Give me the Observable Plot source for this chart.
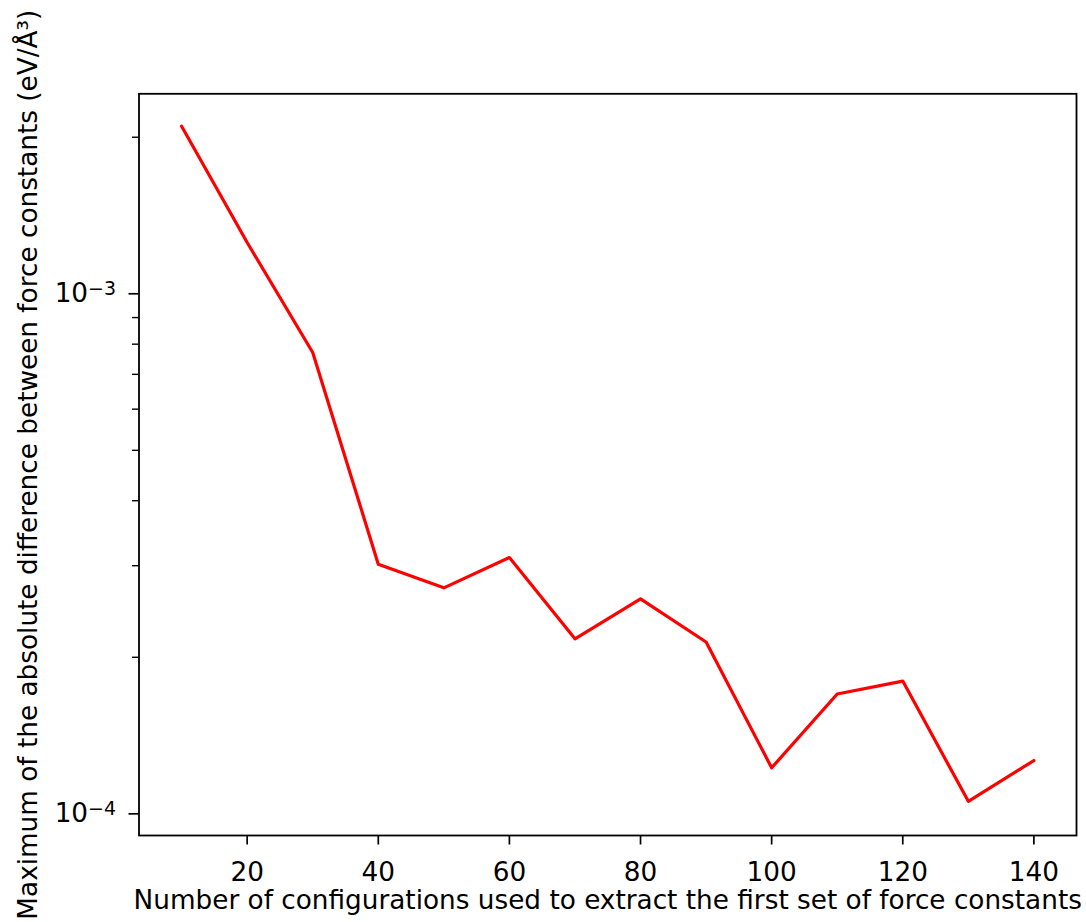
<!DOCTYPE html>
<html>
<head>
<meta charset="utf-8">
<script src="https://cdn.jsdelivr.net/npm/d3@7"></script>
<script src="https://cdn.jsdelivr.net/npm/@observablehq/plot@0.6"></script>
<style>
  html, body { margin: 0; padding: 0; background: #fff; }
  #chart svg { display: block; }
</style>
</head>
<body>
<div id="chart"></div>
<script>
const configs = [10, 20, 30, 40, 50, 60, 70, 80, 90, 100, 110, 120, 130, 140];
const maxDiff = [2.10e-3, 1.255e-3, 7.71e-4, 3.02e-4, 2.72e-4, 3.11e-4, 2.17e-4, 2.59e-4, 2.14e-4, 1.226e-4, 1.70e-4, 1.80e-4, 1.057e-4, 1.266e-4];
const xTicks = [20, 40, 60, 80, 100, 120, 140];
const yMajorTicks = [1e-4, 1e-3];
const yMajorExponents = ["−4", "−3"];
const yMinorTicks = [2e-4, 3e-4, 4e-4, 5e-4, 6e-4, 7e-4, 8e-4, 9e-4, 2e-3];
const xLabel = "Number of configurations used to extract the first set of force constants";
const yLabel = "Maximum of the absolute difference between force constants (eV/Å³)";

const data = configs.map((c, i) => ({x: c, y: maxDiff[i]}));
const font = "DejaVu Sans, sans-serif";
const fs = 26.3;

const chart = Plot.plot({
  width: 1086,
  height: 922,
  marginLeft: 138.5,
  marginRight: 10,
  marginTop: 93.3,
  marginBottom: 87,
  style: {fontFamily: font, fontSize: fs + "px", color: "#000", background: "#fff"},
  x: {domain: [3.5, 146.5]},
  y: {type: "log", domain: [9.085e-5, 2.424e-3]},
  marks: [
    Plot.axisX(xTicks, {tickSize: 9.5, tickPadding: 17, fontSize: fs, label: null, strokeWidth: 1.7, fill: "#000"}),
    Plot.axisY(yMajorTicks, {tickSize: 10, tickPadding: 13, fontSize: fs, label: null, strokeWidth: 1.7, fill: "#000",
      tickFormat: d => "10^" + yMajorExponents[yMajorTicks.indexOf(d)]}),
    Plot.axisY(yMinorTicks, {tickSize: 6.5, tickFormat: () => "", label: null, strokeWidth: 1.4}),
    Plot.line(data, {x: "x", y: "y", stroke: "#ff0000", strokeWidth: 3.2}),
    Plot.frame({stroke: "#000", strokeWidth: 1.8}),
    Plot.text([xLabel], {frameAnchor: "bottom", dy: 65, lineAnchor: "middle", textAnchor: "middle", fontSize: fs, fill: "#000"}),
    Plot.text([yLabel], {frameAnchor: "left", dx: -110.5, rotate: -90, lineAnchor: "middle", textAnchor: "middle", fontSize: fs, fill: "#000"})
  ]
});

// Render exponent labels as 10 with a superscript, like mathtext.
d3.select(chart).selectAll("text").each(function() {
  const el = d3.select(this);
  const t = el.text();
  const m = /^10\^(.+)$/.exec(t);
  if (m) {
    el.text("10");
    el.append("tspan").attr("dy", "-0.4em").attr("font-size", "72%").text(m[1]);
  }
});
document.getElementById("chart").appendChild(chart);
</script>
</body>
</html>
